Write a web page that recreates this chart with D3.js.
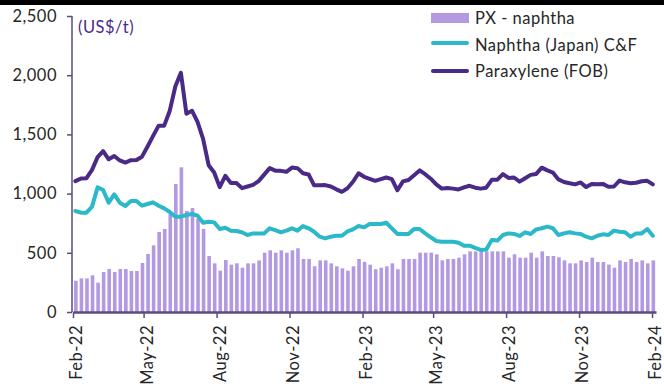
<!DOCTYPE html>
<html>
<head>
<meta charset="utf-8">
<script src="https://cdn.jsdelivr.net/npm/d3@7"></script>
<style>
  html, body { margin: 0; padding: 0; background: #fff; }
  svg { display: block; font-family: Lato, "Open Sans", sans-serif; }
</style>
</head>
<body>
<svg id="chart" width="664" height="390"></svg>
<script>
// Weekly prices, US$/t (first week ending Fri 4 Feb 2022, last Fri 2 Feb 2024)
const firstWeek = "2022-02-04";

const naphthaJapan = [
  853, 839, 839, 890, 1053, 1030, 923, 994, 923, 895, 937, 937, 898, 912, 926, 898,
  875, 845, 805, 805, 819, 828, 814, 754, 763, 757, 701, 712, 687, 684, 673, 650,
  664, 664, 664, 707, 692, 673, 687, 707, 687, 726, 707, 678, 636, 622, 636, 644,
  644, 680, 698, 726, 715, 743, 743, 743, 754, 707, 659, 659, 659, 701, 701, 664,
  631, 600, 594, 594, 594, 585, 560, 560, 541, 524, 528, 608, 603, 650, 664, 659,
  642, 673, 659, 698, 707, 721, 707, 650, 664, 673, 664, 659, 636, 622, 644, 656,
  650, 687, 678, 673, 636, 664, 664, 701, 644
];

const paraxyleneFob = [
  1105, 1128, 1130, 1200, 1308, 1358, 1290, 1318, 1280, 1262, 1282, 1284, 1312, 1398, 1488, 1574,
  1574, 1700, 1905, 2020, 1675, 1700, 1605, 1462, 1240, 1178, 1055, 1150, 1090, 1090, 1046, 1060,
  1074, 1105, 1160, 1215, 1194, 1192, 1184, 1220, 1215, 1172, 1162, 1070, 1070, 1072, 1060, 1036,
  1015, 1045, 1100, 1172, 1142, 1125, 1108, 1122, 1136, 1122, 1028, 1103, 1115, 1155, 1196, 1164,
  1126, 1078, 1042, 1048, 1042, 1035, 1052, 1066, 1050, 1042, 1050, 1116, 1118, 1164, 1132, 1136,
  1101, 1130, 1158, 1166, 1219, 1196, 1178, 1120, 1098, 1088, 1078, 1094, 1055, 1081, 1080, 1082,
  1058, 1060, 1110, 1095, 1088, 1092, 1104, 1108, 1078
];

const pxNaphthaSpread = [
  264, 284, 284, 310, 248, 338, 363, 338, 363, 363, 346, 346, 414, 490, 563, 676,
  701, 828, 1081, 1222, 853, 878, 790, 701, 473, 411, 349, 439, 400, 411, 374, 411,
  411, 436, 501, 521, 501, 521, 501, 521, 538, 448, 448, 386, 436, 436, 411, 386,
  369, 349, 386, 448, 423, 400, 361, 374, 386, 411, 361, 448, 448, 448, 501, 501,
  501, 487, 436, 448, 448, 459, 487, 512, 512, 512, 512, 512, 512, 512, 459, 487,
  459, 459, 501, 459, 512, 473, 473, 462, 436, 411, 411, 436, 422, 459, 422, 422,
  400, 374, 436, 422, 448, 422, 436, 411, 436
];

const yTicks = [0, 500, 1000, 1500, 2000, 2500];
const xTickDates = ["2022-02-01", "2022-05-01", "2022-08-01", "2022-11-01", "2023-02-01",
                    "2023-05-01", "2023-08-01", "2023-11-01", "2024-02-01"];

const seriesNames = ["PX - naphtha", "Naphtha (Japan) C&F", "Paraxylene (FOB)"];
const colors = { bar: "#b399e1", naphtha: "#2bb8c8", px: "#4a2a87", axis: "#5d4b7e", text: "#262626" };
const fontSize = 16.5, spacing = "0.5px";

const parse = d3.utcParse("%Y-%m-%d");
const weeks = d3.utcFriday.every(1).range(parse(firstWeek), d3.utcDay.offset(parse(firstWeek), 7 * naphthaJapan.length));
const rows = weeks.map((d, i) => ({ date: d, naphtha: naphthaJapan[i], px: paraxyleneFob[i], spread: pxNaphthaSpread[i] }));

const svg = d3.select("#chart");

// top rule
svg.append("rect").attr("x", 0).attr("y", 0).attr("width", 664).attr("height", 5).attr("fill", "#000");

const x = d3.scaleUtc()
  .domain([parse("2022-02-01"), parse("2024-02-06")])
  .range([73, 656]);
const y = d3.scaleLinear().domain([0, 2500]).range([312, 16]);

// bars
const barW = 3.6;
svg.append("g").selectAll("rect").data(rows).join("rect")
  .attr("x", d => x(d.date) - barW / 2 + 0.5)
  .attr("y", d => y(d.spread))
  .attr("width", barW)
  .attr("height", d => y(0) - y(d.spread))
  .attr("fill", colors.bar);

// lines
const lineOf = key => d3.line().x(d => x(d.date)).y(d => y(d[key]));
svg.append("path").datum(rows).attr("d", lineOf("naphtha"))
  .attr("fill", "none").attr("stroke", colors.naphtha).attr("stroke-width", 4)
  .attr("stroke-linejoin", "round").attr("stroke-linecap", "round");
svg.append("path").datum(rows).attr("d", lineOf("px"))
  .attr("fill", "none").attr("stroke", colors.px).attr("stroke-width", 4)
  .attr("stroke-linejoin", "round").attr("stroke-linecap", "round");

// y axis
const yAxis = svg.append("g").attr("transform", "translate(72,0)")
  .call(d3.axisLeft(y).tickValues(yTicks).tickFormat(d3.format(",")).tickSize(5).tickPadding(10));
yAxis.select(".domain").attr("stroke", colors.axis).attr("stroke-width", 1.5).attr("d", `M0,${y(2500)}V${y(0)}`);
yAxis.selectAll(".tick line").attr("stroke", colors.axis).attr("stroke-width", 1.5);
yAxis.selectAll(".tick text").attr("fill", colors.text).attr("font-size", fontSize)
  .attr("font-family", "Lato").attr("letter-spacing", spacing);

// x axis
const xAxis = svg.append("g").attr("transform", `translate(0,${y(0)})`)
  .call(d3.axisBottom(x).tickValues(xTickDates.map(parse)).tickFormat(d3.utcFormat("%b-%y")).tickSize(6).tickSizeOuter(0));
xAxis.select(".domain").attr("stroke", colors.axis).attr("stroke-width", 2.5);
xAxis.selectAll(".tick line").attr("stroke", colors.axis).attr("stroke-width", 1.5);
xAxis.selectAll(".tick text")
  .attr("fill", colors.text).attr("font-size", fontSize).attr("font-family", "Lato")
  .attr("letter-spacing", spacing)
  .attr("text-anchor", "end").attr("dy", null).attr("y", null)
  .attr("transform", "translate(8.5,13) rotate(-90)");

// unit label
svg.append("text").attr("x", 78).attr("y", 33).attr("fill", colors.px)
  .attr("font-size", fontSize).attr("letter-spacing", spacing).text("(US$/t)");

// legend
const legend = svg.append("g").attr("font-size", fontSize).attr("letter-spacing", spacing).attr("fill", colors.text);
legend.append("rect").attr("x", 431).attr("y", 13).attr("width", 38).attr("height", 10).attr("fill", colors.bar);
legend.append("text").attr("x", 475).attr("y", 24).text(seriesNames[0]);
legend.append("line").attr("x1", 433).attr("x2", 467).attr("y1", 43).attr("y2", 43)
  .attr("stroke", colors.naphtha).attr("stroke-width", 4).attr("stroke-linecap", "round");
legend.append("text").attr("x", 475).attr("y", 51).text(seriesNames[1]);
legend.append("line").attr("x1", 433).attr("x2", 467).attr("y1", 71).attr("y2", 71)
  .attr("stroke", colors.px).attr("stroke-width", 4).attr("stroke-linecap", "round");
legend.append("text").attr("x", 475).attr("y", 77).text(seriesNames[2]);
</script>
</body>
</html>
